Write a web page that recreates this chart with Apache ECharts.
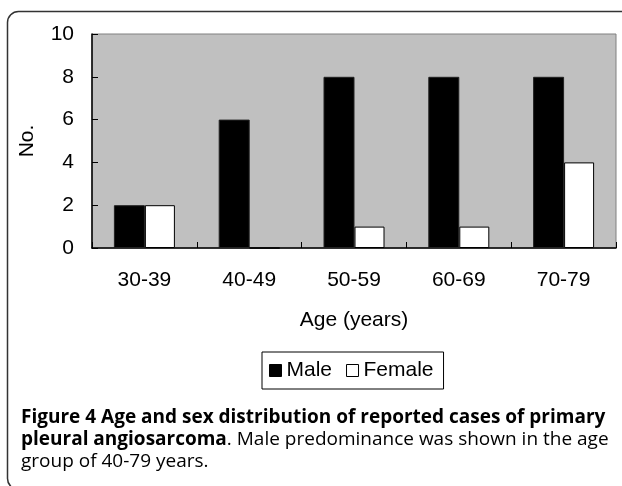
<!DOCTYPE html>
<html>
<head>
<meta charset="utf-8">
<script src="https://cdn.jsdelivr.net/npm/echarts@6/dist/echarts.min.js"></script>
<style>
html,body{margin:0;padding:0;background:#fff;}
#chart{width:622px;height:486px;}
</style>
</head>
<body>
<div id="chart"></div>
<script>
var categories = ['30-39', '40-49', '50-59', '60-69', '70-79'];
var maleValues = [2, 6, 8, 8, 8];
var femaleValues = [2, 0, 1, 1, 4];
var yTicks = [0, 2, 4, 6, 8, 10];

var chart = echarts.init(document.getElementById('chart'), null, {renderer: 'canvas'});
var font = '"Liberation Sans", Arial, sans-serif';
var capFont = '"Open Sans", "Noto Sans", sans-serif';

chart.setOption({
  animation: false,
  backgroundColor: '#ffffff',
  grid: {
    left: 92, right: 6, top: 34, bottom: 238,
    show: true, backgroundColor: '#c0c0c0', borderColor: '#808080', borderWidth: 1
  },
  legend: {
    left: 262, top: 352,
    padding: [8, 10, 8, 7],
    borderColor: '#000', borderWidth: 1, backgroundColor: '#fff',
    itemWidth: 12, itemHeight: 12, itemGap: 14,
    icon: 'rect',
    textStyle: {fontFamily: font, fontSize: 21, color: '#000'},
    data: [
      {name: 'Male', itemStyle: {color: '#000', borderColor: '#000', borderWidth: 1}},
      {name: 'Female', itemStyle: {color: '#fff', borderColor: '#000', borderWidth: 1}}
    ]
  },
  xAxis: {
    type: 'category',
    data: categories,
    name: 'Age (years)',
    nameLocation: 'middle',
    nameGap: 62,
    nameTextStyle: {fontFamily: font, fontSize: 21, color: '#000'},
    axisLine: {lineStyle: {color: '#000', width: 1.5}},
    axisTick: {show: true, inside: true, length: 6, lineStyle: {color: '#000', width: 1}},
    axisLabel: {fontFamily: font, fontSize: 21, color: '#000', margin: 22},
    splitLine: {show: false}
  },
  yAxis: {
    type: 'value',
    min: yTicks[0], max: yTicks[yTicks.length - 1], interval: 2,
    name: 'No.',
    nameLocation: 'middle',
    nameGap: 54,
    nameTextStyle: {fontFamily: font, fontSize: 21, color: '#000'},
    axisLine: {show: true, lineStyle: {color: '#000', width: 1.5}},
    axisTick: {show: true, inside: true, length: 6, lineStyle: {color: '#000', width: 1}},
    axisLabel: {fontFamily: font, fontSize: 21, color: '#000', margin: 18},
    splitLine: {show: false}
  },
  series: [
    {
      name: 'Male', type: 'bar', data: maleValues,
      barWidth: 31, barGap: '0%',
      itemStyle: {color: '#000', borderColor: '#222', borderWidth: 1}
    },
    {
      name: 'Female', type: 'bar', data: femaleValues,
      barWidth: 30, barGap: '0%',
      itemStyle: {color: '#fff', borderColor: '#000', borderWidth: 1}
    }
  ],
  graphic: [
    {
      type: 'rect', left: 5, top: 9,
      shape: {x: 0, y: 0, width: 626, height: 478, r: 11},
      style: {fill: 'none', stroke: '#333', lineWidth: 1.5},
      silent: true
    },
    {
      type: 'text', left: 21, top: 407,
      style: {
        text: '{b|Figure 4 Age and sex distribution of reported cases of primary}\n{b|pleural angiosarcoma}{r|. Male predominance was shown in the age}\n{r|group of 40-79 years.}',
        fontFamily: capFont,
        fontSize: 19,
        lineHeight: 22,
        rich: {
          b: {fontFamily: capFont, fontSize: 19, fontWeight: 'bold', color: '#231f20', lineHeight: 22},
          r: {fontFamily: capFont, fontSize: 19, color: '#4a4a4a', lineHeight: 22}
        }
      }
    }
  ]
});
</script>
</body>
</html>
